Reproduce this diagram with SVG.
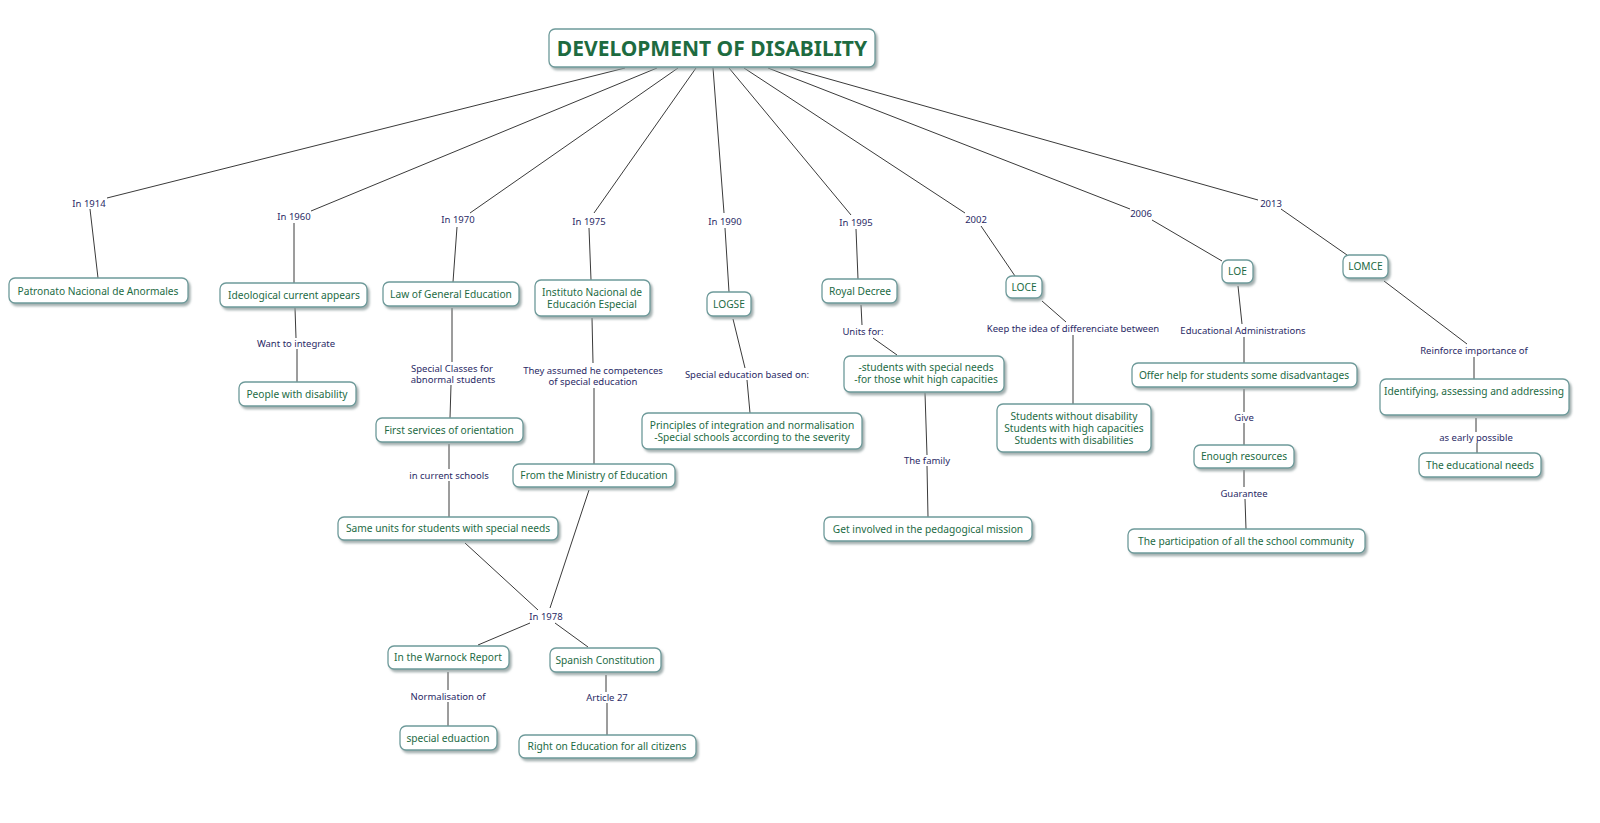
<svg xmlns="http://www.w3.org/2000/svg" width="1600" height="823" viewBox="0 0 1600 823">
<style>
.box{fill:#ffffff;stroke:#6e9a9a;stroke-width:1.3;filter:url(#sh)}
.nt{font-family:"Noto Sans","DejaVu Sans",sans-serif;font-size:10.2px;fill:#1d6b45;text-anchor:middle}
.tt{font-family:"Noto Sans","DejaVu Sans",sans-serif;font-size:21px;font-weight:bold;fill:#1e6b40;text-anchor:middle}
.lt{font-family:"Noto Sans","DejaVu Sans",sans-serif;font-size:9.5px;fill:#2a2a66;text-anchor:middle}
.cn line{stroke:#3a3a3a;stroke-width:1}
</style>
<defs>
<filter id="sh" x="-10%" y="-20%" width="130%" height="160%">
<feDropShadow dx="2" dy="2.5" stdDeviation="1" flood-color="#8d9c9c" flood-opacity="0.8"/>
</filter>
</defs>
<rect width="1600" height="823" fill="#ffffff"/>
<g id="connectors" class="cn">
<line x1="625" y1="68" x2="107" y2="198"/>
<line x1="657" y1="68" x2="311" y2="211"/>
<line x1="678" y1="68" x2="470" y2="213"/>
<line x1="696" y1="68" x2="594" y2="213"/>
<line x1="713" y1="68" x2="724" y2="213"/>
<line x1="729" y1="68" x2="851" y2="215"/>
<line x1="744" y1="68" x2="965" y2="213"/>
<line x1="768" y1="68" x2="1130" y2="209"/>
<line x1="790" y1="68" x2="1258" y2="200"/>
<line x1="90" y1="209" x2="98" y2="278"/>
<line x1="294" y1="223" x2="294" y2="283"/>
<line x1="457" y1="227" x2="453" y2="282"/>
<line x1="589" y1="228" x2="591" y2="280"/>
<line x1="725" y1="228" x2="729" y2="292"/>
<line x1="856" y1="229" x2="858" y2="279"/>
<line x1="981" y1="226" x2="1015" y2="276"/>
<line x1="1152" y1="220" x2="1222" y2="261"/>
<line x1="1281" y1="209" x2="1347" y2="255"/>
<line x1="295" y1="308" x2="296" y2="338"/>
<line x1="297" y1="349" x2="297" y2="382"/>
<line x1="452" y1="308" x2="452" y2="362"/>
<line x1="451" y1="385" x2="450" y2="418"/>
<line x1="449" y1="444" x2="449" y2="469"/>
<line x1="449" y1="481" x2="449" y2="517"/>
<line x1="592" y1="318" x2="593" y2="363"/>
<line x1="594" y1="388" x2="594" y2="464"/>
<line x1="733" y1="319" x2="745" y2="368"/>
<line x1="747" y1="380" x2="750" y2="413"/>
<line x1="861" y1="305" x2="862" y2="325"/>
<line x1="873" y1="338" x2="897" y2="355"/>
<line x1="925" y1="393" x2="927" y2="455"/>
<line x1="927" y1="466" x2="928" y2="517"/>
<line x1="1042" y1="301" x2="1066" y2="322"/>
<line x1="1073" y1="335" x2="1073" y2="404"/>
<line x1="1238" y1="286" x2="1242" y2="324"/>
<line x1="1244" y1="337" x2="1244" y2="363"/>
<line x1="1244" y1="389" x2="1244" y2="412"/>
<line x1="1244" y1="423" x2="1244" y2="445"/>
<line x1="1244" y1="470" x2="1244" y2="487"/>
<line x1="1245" y1="499" x2="1246" y2="529"/>
<line x1="1384" y1="281" x2="1467" y2="344"/>
<line x1="1474" y1="357" x2="1474" y2="379"/>
<line x1="1476" y1="418" x2="1476" y2="432"/>
<line x1="1477" y1="443" x2="1477" y2="453"/>
<line x1="465" y1="543" x2="538" y2="610"/>
<line x1="589" y1="490" x2="550" y2="608"/>
<line x1="530" y1="623" x2="478" y2="645"/>
<line x1="555" y1="623" x2="588" y2="647"/>
<line x1="448" y1="672" x2="448" y2="690"/>
<line x1="448" y1="702" x2="448" y2="726"/>
<line x1="606" y1="675" x2="606" y2="692"/>
<line x1="607" y1="703" x2="607" y2="735"/>
</g>
<g id="labels">
<text class="lt" x="89" y="206.5">In 1914</text>
<text class="lt" x="294" y="219.5">In 1960</text>
<text class="lt" x="458" y="222.5">In 1970</text>
<text class="lt" x="589" y="224.5">In 1975</text>
<text class="lt" x="725" y="224.5">In 1990</text>
<text class="lt" x="856" y="225.5">In 1995</text>
<text class="lt" x="976" y="222.5">2002</text>
<text class="lt" x="1141" y="216.5">2006</text>
<text class="lt" x="1271" y="206.5">2013</text>
<text class="lt" x="296" y="346.5">Want to integrate</text>
<text class="lt" x="452" y="371.5">Special Classes for</text>
<text class="lt" x="453" y="382.5">abnormal students</text>
<text class="lt" x="449" y="478.5">in current schools</text>
<text class="lt" x="593" y="373.5">They assumed  he competences</text>
<text class="lt" x="593" y="384.5">of special education</text>
<text class="lt" x="747" y="377.5">Special education based on:</text>
<text class="lt" x="863" y="334.5">Units for:</text>
<text class="lt" x="927" y="463.5">The family</text>
<text class="lt" x="1073" y="331.5">Keep the idea of differenciate between</text>
<text class="lt" x="1243" y="333.5">Educational Administrations</text>
<text class="lt" x="1244" y="420.5">Give</text>
<text class="lt" x="1244" y="496.5">Guarantee</text>
<text class="lt" x="1474" y="353.5">Reinforce importance of</text>
<text class="lt" x="1476" y="440.5">as early possible</text>
<text class="lt" x="546" y="619.5">In 1978</text>
<text class="lt" x="448" y="699.5">Normalisation of</text>
<text class="lt" x="607" y="700.5">Article 27</text>
</g>
<g id="title"><rect class="box" x="549" y="29" width="326" height="38" rx="6"/><text class="tt" x="712" y="55.5">DEVELOPMENT OF DISABILITY</text></g>
<g id="n-patronato"><rect class="box" x="9" y="278" width="179" height="25" rx="6"/><text class="nt" x="98" y="294.5">Patronato Nacional de Anormales</text></g>
<g id="n-ideological"><rect class="box" x="220" y="283" width="147" height="24" rx="6"/><text class="nt" x="294" y="298.5">Ideological current appears</text></g>
<g id="n-people"><rect class="box" x="239" y="382" width="117" height="24" rx="6"/><text class="nt" x="297" y="397.5">People with disability</text></g>
<g id="n-law"><rect class="box" x="383" y="282" width="136" height="24" rx="6"/><text class="nt" x="451" y="297.5">Law of General Education</text></g>
<g id="n-first"><rect class="box" x="376" y="418" width="147" height="24" rx="6"/><text class="nt" x="449" y="433.5">First services of orientation</text></g>
<g id="n-same"><rect class="box" x="338" y="517" width="220" height="23" rx="6"/><text class="nt" x="448" y="532">Same units for students with special needs</text></g>
<g id="n-instituto"><rect class="box" x="535" y="280" width="115" height="36" rx="6"/><text class="nt" x="592" y="295.5">Instituto Nacional de</text><text class="nt" x="592" y="307.5">Educación Especial</text></g>
<g id="n-ministry"><rect class="box" x="513" y="464" width="162" height="23" rx="6"/><text class="nt" x="594" y="479">From the Ministry of Education</text></g>
<g id="n-logse"><rect class="box" x="707" y="292" width="44" height="24" rx="6"/><text class="nt" x="729" y="307.5">LOGSE</text></g>
<g id="n-principles"><rect class="box" x="642" y="413" width="220" height="36" rx="6"/><text class="nt" x="752" y="429">Principles of integration and normalisation</text><text class="nt" x="752" y="441">-Special schools according to the severity</text></g>
<g id="n-royal"><rect class="box" x="822" y="279" width="75" height="24" rx="6"/><text class="nt" x="860" y="294.5">Royal Decree</text></g>
<g id="n-students"><rect class="box" x="844" y="356" width="160" height="36" rx="6"/><text class="nt" x="926" y="370.5">-students with special needs</text><text class="nt" x="926" y="382.5">-for those whit high capacities</text></g>
<g id="n-get"><rect class="box" x="824" y="517" width="208" height="24" rx="6"/><text class="nt" x="928" y="532.5">Get involved in the pedagogical mission</text></g>
<g id="n-loce"><rect class="box" x="1006" y="276" width="36" height="22" rx="6"/><text class="nt" x="1024" y="290.5">LOCE</text></g>
<g id="n-without"><rect class="box" x="997" y="404" width="154" height="48" rx="6"/><text class="nt" x="1074" y="419.5">Students without disability</text><text class="nt" x="1074" y="431.5">Students with high capacities</text><text class="nt" x="1074" y="443.5">Students with disabilities</text></g>
<g id="n-loe"><rect class="box" x="1222" y="260" width="31" height="23" rx="6"/><text class="nt" x="1237.5" y="275">LOE</text></g>
<g id="n-offer"><rect class="box" x="1132" y="363" width="225" height="24" rx="6"/><text class="nt" x="1244" y="378.5">Offer help for students some disadvantages</text></g>
<g id="n-enough"><rect class="box" x="1194" y="445" width="100" height="23" rx="6"/><text class="nt" x="1244" y="460">Enough resources</text></g>
<g id="n-participation"><rect class="box" x="1128" y="529" width="237" height="24" rx="6"/><text class="nt" x="1246" y="544.5">The participation of all the school community</text></g>
<g id="n-lomce"><rect class="box" x="1343" y="255" width="45" height="23" rx="6"/><text class="nt" x="1365.5" y="270">LOMCE</text></g>
<g id="n-identifying"><rect class="box" x="1380" y="379" width="189" height="36" rx="6"/><text class="nt" x="1474" y="394.5">Identifying, assessing and addressing</text></g>
<g id="n-needs"><rect class="box" x="1419" y="453" width="122" height="24" rx="6"/><text class="nt" x="1480" y="468.5">The educational needs</text></g>
<g id="n-warnock"><rect class="box" x="388" y="646" width="121" height="23" rx="6"/><text class="nt" x="448" y="661">In the Warnock Report</text></g>
<g id="n-spanish"><rect class="box" x="550" y="648" width="111" height="24" rx="6"/><text class="nt" x="605" y="663.5">Spanish Constitution</text></g>
<g id="n-special"><rect class="box" x="400" y="726" width="97" height="24" rx="6"/><text class="nt" x="448" y="741.5">special eduaction</text></g>
<g id="n-right"><rect class="box" x="519" y="735" width="177" height="23" rx="6"/><text class="nt" x="607" y="750">Right on Education for all citizens</text></g>
</svg>
